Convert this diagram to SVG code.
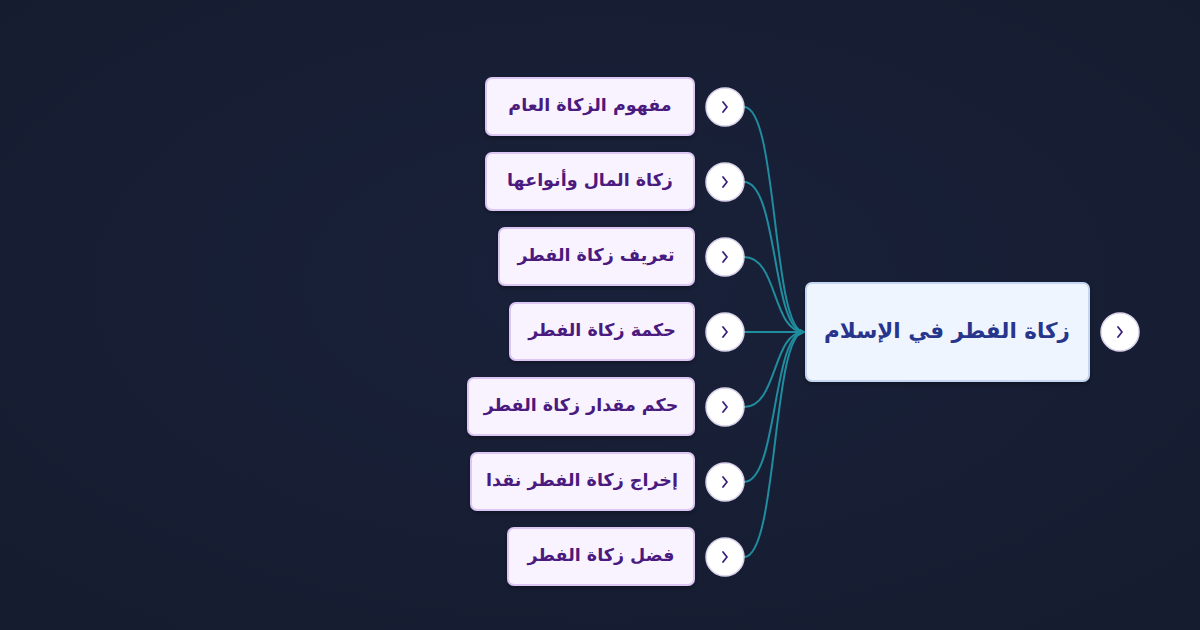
<svg xmlns="http://www.w3.org/2000/svg" width="1200" height="630" viewBox="0 0 1200 630">
<defs>
<radialGradient id="bg" cx="50%" cy="45%" r="75%">
<stop offset="0" stop-color="#19213a"/>
<stop offset="1" stop-color="#151c2f"/>
</radialGradient>
<marker id="arr" viewBox="0 0 10 10" refX="9" refY="5" markerWidth="7" markerHeight="7" orient="auto" markerUnits="userSpaceOnUse">
<path d="M1,1 L9,5 L1,9" fill="none" stroke="#1f8d9e" stroke-width="2"/>
</marker>
<filter id="sh" x="-20%" y="-20%" width="140%" height="150%">
<feDropShadow dx="0" dy="2" stdDeviation="2" flood-color="#000" flood-opacity="0.35"/>
</filter>
</defs>
<style>
.child rect{fill:#f9f3ff;stroke:#dcc6f4;stroke-width:2}
.child text{font-family:"DejaVu Sans",sans-serif;font-weight:bold;font-size:17.5px;fill:#4b1a7e;text-anchor:middle}
.btn circle{fill:#ffffff;stroke:#d9d2ea;stroke-width:1.5}
.btn path{fill:none;stroke:#3b1f7a;stroke-width:1.8;stroke-linecap:round;stroke-linejoin:round}
.conn path{fill:none;stroke:#1f8d9e;stroke-width:2}
</style>
<rect width="1200" height="630" fill="url(#bg)"/>

<g class="conn" id="connectors">
<path d="M744,107 C778,107 772,332 804,332" marker-end="url(#arr)"/>
<path d="M744,182 C778,182 772,332 804,332" marker-end="url(#arr)"/>
<path d="M744,257 C778,257 772,332 804,332" marker-end="url(#arr)"/>
<path d="M744,332 L804,332" marker-end="url(#arr)"/>
<path d="M744,407 C778,407 772,332 804,332" marker-end="url(#arr)"/>
<path d="M744,482 C778,482 772,332 804,332" marker-end="url(#arr)"/>
<path d="M744,557 C778,557 772,332 804,332" marker-end="url(#arr)"/>
</g>

<g id="root">
<rect x="806" y="283" width="283" height="98" rx="6" fill="#eef5ff" stroke="#c4d6f2" stroke-width="2" filter="url(#sh)"/>
<text x="947" y="338" direction="rtl" text-anchor="middle" font-family="'DejaVu Sans',sans-serif" font-weight="bold" font-size="21.5" fill="#27358c">زكاة الفطر في الإسلام</text>
<g class="btn"><circle cx="1120" cy="332" r="19"/><path d="M1118,327 L1122,332 L1118,337"/></g>
</g>

<g id="n1" class="child">
<rect x="486" y="78" width="208" height="57" rx="6" filter="url(#sh)"/>
<text x="590" y="111" direction="rtl">مفهوم الزكاة العام</text>
<g class="btn"><circle cx="725" cy="107" r="19"/><path d="M723,102 L727,107 L723,112"/></g>
</g>
<g id="n2" class="child">
<rect x="486" y="153" width="208" height="57" rx="6" filter="url(#sh)"/>
<text x="590" y="186" direction="rtl">زكاة المال وأنواعها</text>
<g class="btn"><circle cx="725" cy="182" r="19"/><path d="M723,177 L727,182 L723,187"/></g>
</g>
<g id="n3" class="child">
<rect x="499" y="228" width="195" height="57" rx="6" filter="url(#sh)"/>
<text x="596" y="261" direction="rtl">تعريف زكاة الفطر</text>
<g class="btn"><circle cx="725" cy="257" r="19"/><path d="M723,252 L727,257 L723,262"/></g>
</g>
<g id="n4" class="child">
<rect x="510" y="303" width="184" height="57" rx="6" filter="url(#sh)"/>
<text x="602" y="336" direction="rtl">حكمة زكاة الفطر</text>
<g class="btn"><circle cx="725" cy="332" r="19"/><path d="M723,327 L727,332 L723,337"/></g>
</g>
<g id="n5" class="child">
<rect x="468" y="378" width="226" height="57" rx="6" filter="url(#sh)"/>
<text x="581" y="411" direction="rtl">حكم مقدار زكاة الفطر</text>
<g class="btn"><circle cx="725" cy="407" r="19"/><path d="M723,402 L727,407 L723,412"/></g>
</g>
<g id="n6" class="child">
<rect x="471" y="453" width="223" height="57" rx="6" filter="url(#sh)"/>
<text x="582" y="486" direction="rtl">إخراج زكاة الفطر نقدا</text>
<g class="btn"><circle cx="725" cy="482" r="19"/><path d="M723,477 L727,482 L723,487"/></g>
</g>
<g id="n7" class="child">
<rect x="508" y="528" width="186" height="57" rx="6" filter="url(#sh)"/>
<text x="601" y="561" direction="rtl">فضل زكاة الفطر</text>
<g class="btn"><circle cx="725" cy="557" r="19"/><path d="M723,552 L727,557 L723,562"/></g>
</g>
</svg>
